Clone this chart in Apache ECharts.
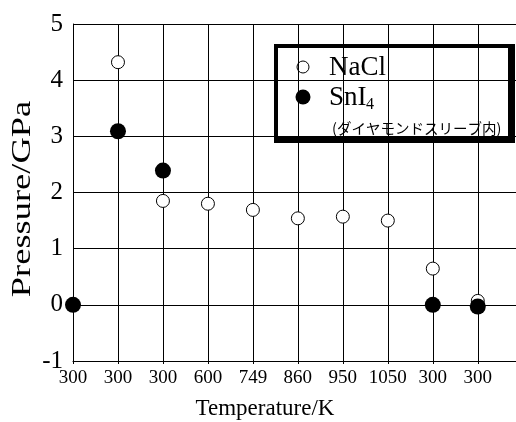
<!DOCTYPE html>
<html>
<head>
<meta charset="utf-8">
<script src="https://cdn.jsdelivr.net/npm/echarts@6/dist/echarts.min.js"></script>
<style>
  html, body { margin: 0; padding: 0; background: #fff; }
  #chart { width: 516px; height: 422px; }
</style>
</head>
<body>
<div id="chart"></div>
<script>
// Temperature steps of the run (category labels along the x axis)
const tempLabels = ['300', '300', '300', '600', '749', '860', '950', '1050', '300', '300'];

// Pressure readings (GPa) per step; null where no point was taken
const naclPressure = [null, 4.32, 1.85, 1.80, 1.69, 1.54, 1.57, 1.50, 0.645, 0.07];
const sni4Pressure = [0, 3.09, 2.39, null, null, null, null, null, 0, -0.03];

const yTicks = { min: -1, max: 5, step: 1 };

const serif = '"Liberation Serif", "Times New Roman", serif';

function toPoints(values) {
  const pts = [];
  values.forEach((v, i) => { if (v !== null) pts.push([i, v]); });
  return pts;
}

const chart = echarts.init(document.getElementById('chart'), null, { renderer: 'canvas' });

chart.setOption({
  animation: false,
  backgroundColor: '#fff',
  grid: { left: 73, top: 24, right: 0, bottom: 61, containLabel: false },
  xAxis: {
    type: 'value',
    min: 0,
    max: 9.85,
    interval: 1,
    axisLine: { show: true, onZero: false, lineStyle: { color: '#000', width: 1 } },
    axisTick: { show: true, inside: false, length: 3, lineStyle: { color: '#000' } },
    splitLine: { show: true, lineStyle: { color: '#000', width: 1 } },
    axisLabel: {
      showMaxLabel: false,
      margin: 8,
      fontFamily: serif,
      fontSize: 19,
      color: '#000',
      formatter: v => (Number.isInteger(v) && tempLabels[v] !== undefined) ? tempLabels[v] : ''
    }
  },
  yAxis: {
    type: 'value',
    min: yTicks.min,
    max: yTicks.max,
    interval: yTicks.step,
    axisLine: { show: true, lineStyle: { color: '#000', width: 1 } },
    axisTick: { show: false },
    splitLine: { show: true, lineStyle: { color: '#000', width: 1 } },
    axisLabel: {
      margin: 10,
      fontFamily: serif,
      fontSize: 25,
      color: '#000'
    }
  },
  series: [
    {
      name: 'NaCl',
      type: 'scatter',
      data: toPoints(naclPressure),
      symbol: 'circle',
      symbolSize: 13,
      clip: false,
      itemStyle: { color: '#fff', borderColor: '#000', borderWidth: 1, opacity: 1 },
      z: 3
    },
    {
      name: 'SnI4',
      type: 'scatter',
      data: toPoints(sni4Pressure),
      symbol: 'circle',
      symbolSize: 16,
      clip: false,
      itemStyle: { color: '#000', borderWidth: 0, opacity: 1 },
      z: 4
    }
  ],
  graphic: [
    // axis titles
    {
      type: 'text',
      x: 23, y: 199,
      rotation: Math.PI / 2,
      scaleX: 1.35,
      style: {
        text: 'Pressure/GPa',
        font: '27px ' + serif,
        fill: '#000',
        align: 'center',
        verticalAlign: 'middle'
      },
      z: 10
    },
    {
      type: 'text',
      x: 265, y: 409,
      style: {
        text: 'Temperature/K',
        font: '23px ' + serif,
        fill: '#000',
        align: 'center',
        verticalAlign: 'middle'
      },
      z: 10
    },
    // legend box
    {
      type: 'group',
      z: 20,
      children: [
        { type: 'rect', shape: { x: 274, y: 44, width: 241, height: 99 }, style: { fill: '#000' } },
        { type: 'rect', shape: { x: 278, y: 48, width: 230, height: 89 }, style: { fill: '#fff' } },
        { type: 'circle', shape: { cx: 303, cy: 67, r: 6 }, style: { fill: '#fff', stroke: '#000', lineWidth: 1 } },
        { type: 'circle', shape: { cx: 303, cy: 97, r: 7.5 }, style: { fill: '#000' } },
        { type: 'text', x: 329, y: 68, style: { text: 'NaCl', font: '27px ' + serif, fill: '#000', align: 'left', verticalAlign: 'middle' } },
        { type: 'text', x: 329, y: 98, style: { text: 'SnI', font: '27px ' + serif, fill: '#000', align: 'left', verticalAlign: 'middle' } },
        { type: 'text', x: 366, y: 105, style: { text: '4', font: '16px ' + serif, fill: '#000', align: 'left', verticalAlign: 'middle' } },
        { type: 'text', x: 332, y: 128, style: { text: '(ダイヤモンドスリーブ内)', font: '14.5px "Noto Sans CJK JP"', fill: '#000', align: 'left', verticalAlign: 'middle' } }
      ]
    }
  ]
});
</script>
</body>
</html>
